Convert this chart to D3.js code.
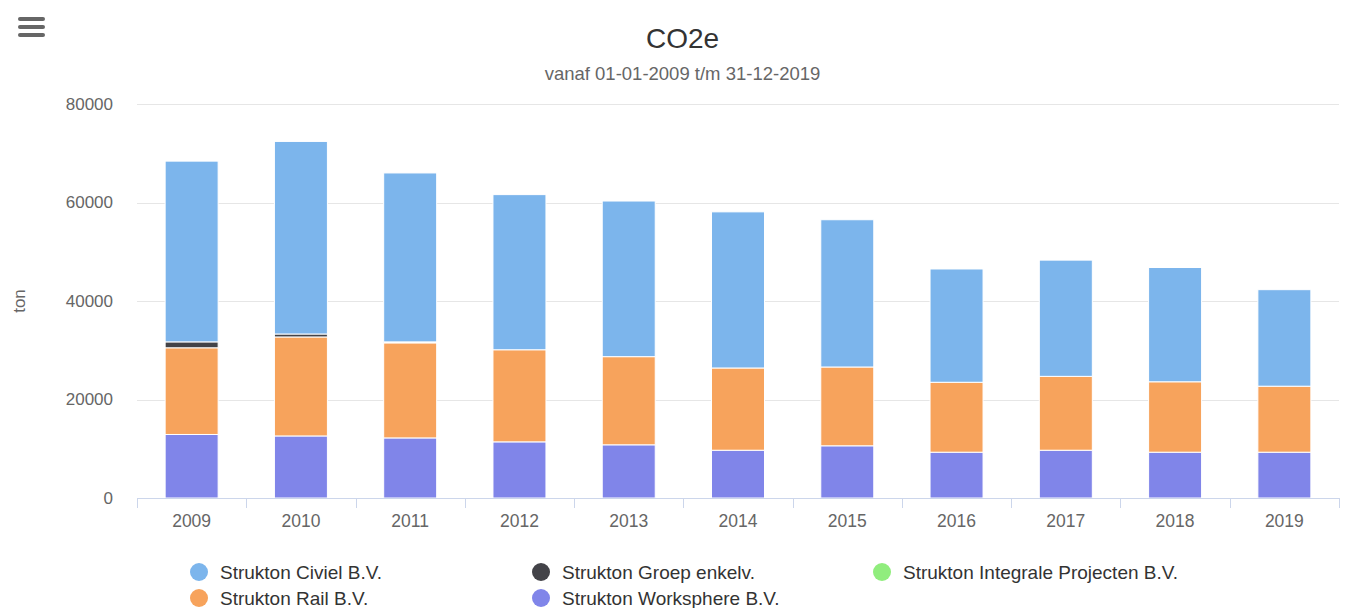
<!DOCTYPE html>
<html>
<head>
<meta charset="utf-8">
<script src="https://cdn.jsdelivr.net/npm/d3@7"></script>
<style>
  body { margin: 0; background: #fff; font-family: "Liberation Sans", Arial, sans-serif; }
  svg text { font-family: "Liberation Sans", Arial, sans-serif; }
</style>
</head>
<body>
<svg id="chart" width="1355" height="608"></svg>
<script>
// chart data
const years = ["2009", "2010", "2011", "2012", "2013", "2014", "2015", "2016", "2017", "2018", "2019"];
const civiel = [36700, 39100, 34300, 31500, 31600, 31700, 29900, 23000, 23600, 23200, 19600];
const groep = [1200, 600, 200, 0, 0, 0, 0, 0, 0, 0, 0];
const integrale = [0, 0, 0, 0, 0, 0, 0, 0, 0, 0, 0];
const rail = [17600, 20100, 19300, 18700, 17900, 16700, 16000, 14200, 15000, 14300, 13400];
const worksphere = [12900, 12600, 12200, 11400, 10800, 9700, 10600, 9300, 9700, 9300, 9300];
const yTicks = [0, 20000, 40000, 60000, 80000];

// legend order (Highcharts style: first series sits on top of the stack)
const series = [
  { name: "Strukton Civiel B.V.", values: civiel, color: "#7cb5ec" },
  { name: "Strukton Groep enkelv.", values: groep, color: "#434348" },
  { name: "Strukton Integrale Projecten B.V.", values: integrale, color: "#90ed7d" },
  { name: "Strukton Rail B.V.", values: rail, color: "#f7a35c" },
  { name: "Strukton Worksphere B.V.", values: worksphere, color: "#8085e9" }
];

const svg = d3.select("#chart");
const margin = { left: 137, right: 16, top: 104, bottom: 110 };
const W = 1355, H = 608;
const plotBottom = H - margin.bottom;

const rows = years.map((y, i) => {
  const r = { year: y };
  series.forEach(s => r[s.name] = s.values[i]);
  return r;
});
const keys = series.map(s => s.name).reverse(); // bottom to top
const stacked = d3.stack().keys(keys)(rows);
const colorOf = d3.scaleOrdinal().domain(series.map(s => s.name)).range(series.map(s => s.color));

const x = d3.scaleBand().domain(years)
  .range([margin.left, W - margin.right])
  .paddingInner(0.515).paddingOuter(0.2575);
const y = d3.scaleLinear().domain([0, 80000]).range([plotBottom, margin.top]);

// grid
svg.append("g").selectAll("line").data(yTicks).join("line")
  .attr("x1", margin.left).attr("x2", W - margin.right)
  .attr("y1", d => Math.round(y(d)) + 0.5).attr("y2", d => Math.round(y(d)) + 0.5)
  .attr("stroke", "#e6e6e6");

// y labels
svg.append("g").selectAll("text").data(yTicks).join("text")
  .attr("x", 113).attr("y", d => y(d)).attr("dy", "0.35em")
  .attr("text-anchor", "end").attr("font-size", 17).attr("fill", "#666")
  .text(d => d);

svg.append("text")
  .attr("transform", `translate(25,${(margin.top + plotBottom) / 2}) rotate(-90)`)
  .attr("text-anchor", "middle").attr("font-size", 17).attr("fill", "#666")
  .text("ton");

// bars
svg.append("g").selectAll("g").data(stacked).join("g")
  .attr("fill", d => colorOf(d.key))
  .selectAll("rect").data(d => d.filter(p => p[1] - p[0] > 0)).join("rect")
  .attr("x", d => x(d.data.year))
  .attr("width", x.bandwidth())
  .attr("y", d => y(d[1]))
  .attr("height", d => y(d[0]) - y(d[1]))
  .attr("stroke", "#fff").attr("stroke-width", 1);

// x axis
const xAxis = svg.append("g");
xAxis.append("line")
  .attr("x1", margin.left).attr("x2", W - margin.right)
  .attr("y1", plotBottom + 0.5).attr("y2", plotBottom + 0.5)
  .attr("stroke", "#ccd6eb");
const step = x.step();
xAxis.selectAll("line.tick").data(d3.range(years.length + 1)).join("line")
  .attr("class", "tick")
  .attr("x1", i => Math.round(margin.left + i * step) + 0.5)
  .attr("x2", i => Math.round(margin.left + i * step) + 0.5)
  .attr("y1", plotBottom).attr("y2", plotBottom + 10)
  .attr("stroke", "#ccd6eb");
xAxis.selectAll("text").data(years).join("text")
  .attr("x", d => x(d) + x.bandwidth() / 2).attr("y", plotBottom + 29)
  .attr("text-anchor", "middle").attr("font-size", 17.5).attr("fill", "#666")
  .text(d => d);

// titles
svg.append("text").attr("x", W / 2 + 5).attr("y", 48)
  .attr("text-anchor", "middle").attr("font-size", 28).attr("fill", "#333")
  .text("CO2e");
svg.append("text").attr("x", W / 2 + 5).attr("y", 80)
  .attr("text-anchor", "middle").attr("font-size", 18.5).attr("fill", "#666")
  .text("vanaf 01-01-2009 t/m 31-12-2019");

// menu icon
svg.append("g").selectAll("line").data([0, 1, 2]).join("line")
  .attr("x1", 20).attr("x2", 43)
  .attr("y1", i => 19 + i * 8).attr("y2", i => 19 + i * 8)
  .attr("stroke", "#666").attr("stroke-width", 4).attr("stroke-linecap", "round");

// legend
const legendCols = [199, 541, 882];
const legend = svg.append("g").selectAll("g").data(series).join("g")
  .attr("transform", (d, i) => `translate(${legendCols[i % 3]},${572 + Math.floor(i / 3) * 26})`);
legend.append("circle").attr("r", 9).attr("fill", d => d.color);
legend.append("text").attr("x", 21).attr("dy", "0.35em")
  .attr("font-size", 19).attr("fill", "#333")
  .text(d => d.name);
</script>
</body>
</html>
